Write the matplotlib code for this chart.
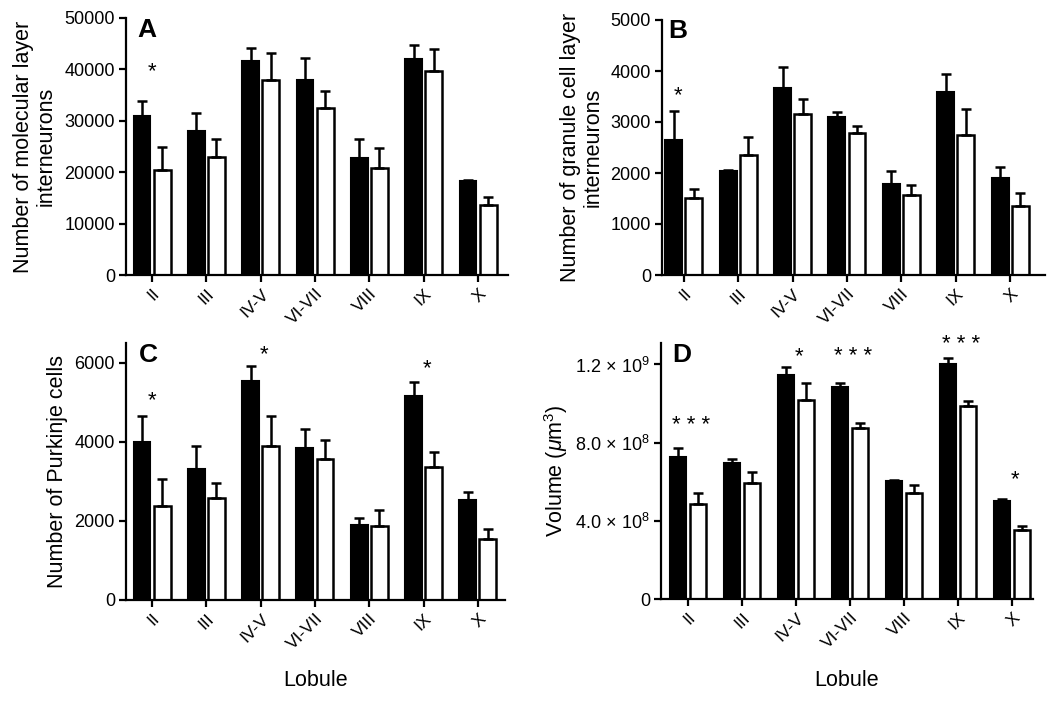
import matplotlib
matplotlib.use("Agg")
import matplotlib.pyplot as plt
import numpy as np

plt.rcParams['font.family'] = ['Liberation Sans', 'DejaVu Sans']
plt.rcParams['mathtext.fontset'] = 'custom'
plt.rcParams['mathtext.rm'] = 'Liberation Sans'
plt.rcParams['mathtext.it'] = 'Liberation Sans:italic'
plt.rcParams['mathtext.bf'] = 'Liberation Sans:bold'

lobules = ['II', 'III', 'IV-V', 'VI-VII', 'VIII', 'IX', 'X']

# Panel A: molecular layer interneurons
a_black = [31000, 28100, 41600, 37900, 22700, 42000, 18200]
a_black_err = [2800, 3400, 2600, 4300, 3700, 2800, 300]
a_white = [20400, 23000, 38000, 32500, 20800, 39600, 13600]
a_white_err = [4500, 3400, 5200, 3250, 3900, 4300, 1500]

# Panel B: granule cell layer interneurons
b_black = [2640, 2034, 3664, 3096, 1780, 3585, 1910]
b_black_err = [570, 30, 420, 100, 255, 360, 210]
b_white = [1512, 2360, 3162, 2783, 1565, 2751, 1350]
b_white_err = [180, 345, 280, 130, 195, 510, 250]

# Panel C: Purkinje cells
c_black = [3990, 3310, 5540, 3845, 1893, 5153, 2530]
c_black_err = [660, 580, 380, 480, 190, 350, 210]
c_white = [2377, 2589, 3888, 3565, 1867, 3353, 1545]
c_white_err = [680, 380, 760, 470, 400, 400, 260]

# Panel D: volume (units of 1e8 um^3)
d_black = [0.725, 0.698, 1.146, 1.086, 0.606, 1.205, 0.504]
d_black_err = [0.050, 0.017, 0.039, 0.020, 0.005, 0.026, 0.007]
d_white = [0.487, 0.596, 1.018, 0.873, 0.541, 0.987, 0.354]
d_white_err = [0.055, 0.056, 0.085, 0.026, 0.043, 0.026, 0.017]

# significance marks: (x position in lobule units, label, height)
a_sig = [(0.0, '*', 39600)]
b_sig = [(-0.1, '*', 3520)]
c_sig = [(0.0, '*', 5050), (2.07, '*', 6200), (5.07, '*', 5860)]
d_sig = [(0.05, '* * *', 0.89), (2.05, '*', 1.24), (3.05, '* * *', 1.243),
         (5.05, '* * *', 1.30), (6.05, '*', 0.61)]

fig = plt.figure(figsize=(10.5, 7.02), dpi=100)
FW, FH = 1050.0, 702.0

W = 0.31
OFF = 0.185
YTICK_FS = 13
XTICK_FS = 12.5
LAB_FS = 15.5


def panel(rect, black, berr, white, werr, ylim, yticks, yticklabels, ylabel,
          ylabel_x, letter, letter_dx, sigs, xlim, xlabel=None, ytick_fs=YTICK_FS):
    ax = fig.add_axes(rect)
    x = np.arange(len(lobules))
    ax.bar(x - OFF, black, W, color='black', edgecolor='black', linewidth=1.5, zorder=2)
    ax.bar(x + OFF, white, W, color='white', edgecolor='black', linewidth=1.8, zorder=2)
    ax.errorbar(x - OFF, black, yerr=[np.zeros(len(x)), berr], fmt='none',
                ecolor='black', elinewidth=1.8, capsize=3.5, capthick=1.8, zorder=3)
    ax.errorbar(x + OFF, white, yerr=[np.zeros(len(x)), werr], fmt='none',
                ecolor='black', elinewidth=1.8, capsize=3.5, capthick=1.8, zorder=3)
    ax.set_xlim(*xlim)
    ax.set_ylim(*ylim)
    ax.set_yticks(yticks)
    ax.set_yticklabels(yticklabels, fontsize=ytick_fs)
    ax.set_xticks(x)
    ax.set_xticklabels(lobules, rotation=45, ha='right', rotation_mode='anchor',
                       fontsize=XTICK_FS)
    for s in ['top', 'right']:
        ax.spines[s].set_visible(False)
    for s in ['left', 'bottom']:
        ax.spines[s].set_linewidth(1.6)
    ax.tick_params(width=1.6, length=5, direction='out', pad=3)
    cy = rect[1] + rect[3] / 2
    fig.text(ylabel_x / FW, cy, ylabel, rotation=90, ha='center', va='center',
             fontsize=LAB_FS, linespacing=1.1)
    if xlabel:
        cx = rect[0] + rect[2] / 2
        fig.text(cx, 1 - 680 / FH, xlabel, ha='center', va='center', fontsize=LAB_FS)
    ax.text(letter_dx / (rect[2] * FW), 0.955, letter, transform=ax.transAxes,
            fontsize=19, fontweight='bold', va='center', ha='left')
    for xp, lab, h in sigs:
        ax.text(xp, h, lab, ha='center', va='center', fontsize=16, clip_on=False)
    return ax


panel([126 / FW, 1 - 275 / FH, 382 / FW, 257 / FH], a_black, a_black_err, a_white, a_white_err,
      (0, 50000), [0, 10000, 20000, 30000, 40000, 50000],
      ['0', '10000', '20000', '30000', '40000', '50000'],
      'Number of molecular layer\ninterneurons', 35, 'A', 11, a_sig, (-0.48, 6.55))

panel([662 / FW, 1 - 275 / FH, 383 / FW, 255 / FH], b_black, b_black_err, b_white, b_white_err,
      (0, 5000), [0, 1000, 2000, 3000, 4000, 5000],
      ['0', '1000', '2000', '3000', '4000', '5000'],
      'Number of granule cell layer\ninterneurons', 582, 'B', 6, b_sig, (-0.4, 6.64))

panel([126 / FW, 1 - 600 / FH, 379 / FW, 257 / FH], c_black, c_black_err, c_white, c_white_err,
      (0, 6500), [0, 2000, 4000, 6000], ['0', '2000', '4000', '6000'],
      'Number of Purkinje cells', 57, 'C', 13, c_sig, (-0.48, 6.5), xlabel='Lobule')

panel([661 / FW, 1 - 599 / FH, 372 / FW, 256 / FH], d_black, d_black_err, d_white, d_white_err,
      (0, 1.31), [0, 0.4, 0.8, 1.2],
      ['0', r'4.0$\,\times\,$10$^8$', r'8.0$\,\times\,$10$^8$', r'1.2$\,\times\,$10$^9$'],
      r'Volume ($\mu$m$^3$)', 556, 'D', 11, d_sig, (-0.5, 6.39), xlabel='Lobule',
      ytick_fs=13)

fig.savefig('out.png', dpi=100)
